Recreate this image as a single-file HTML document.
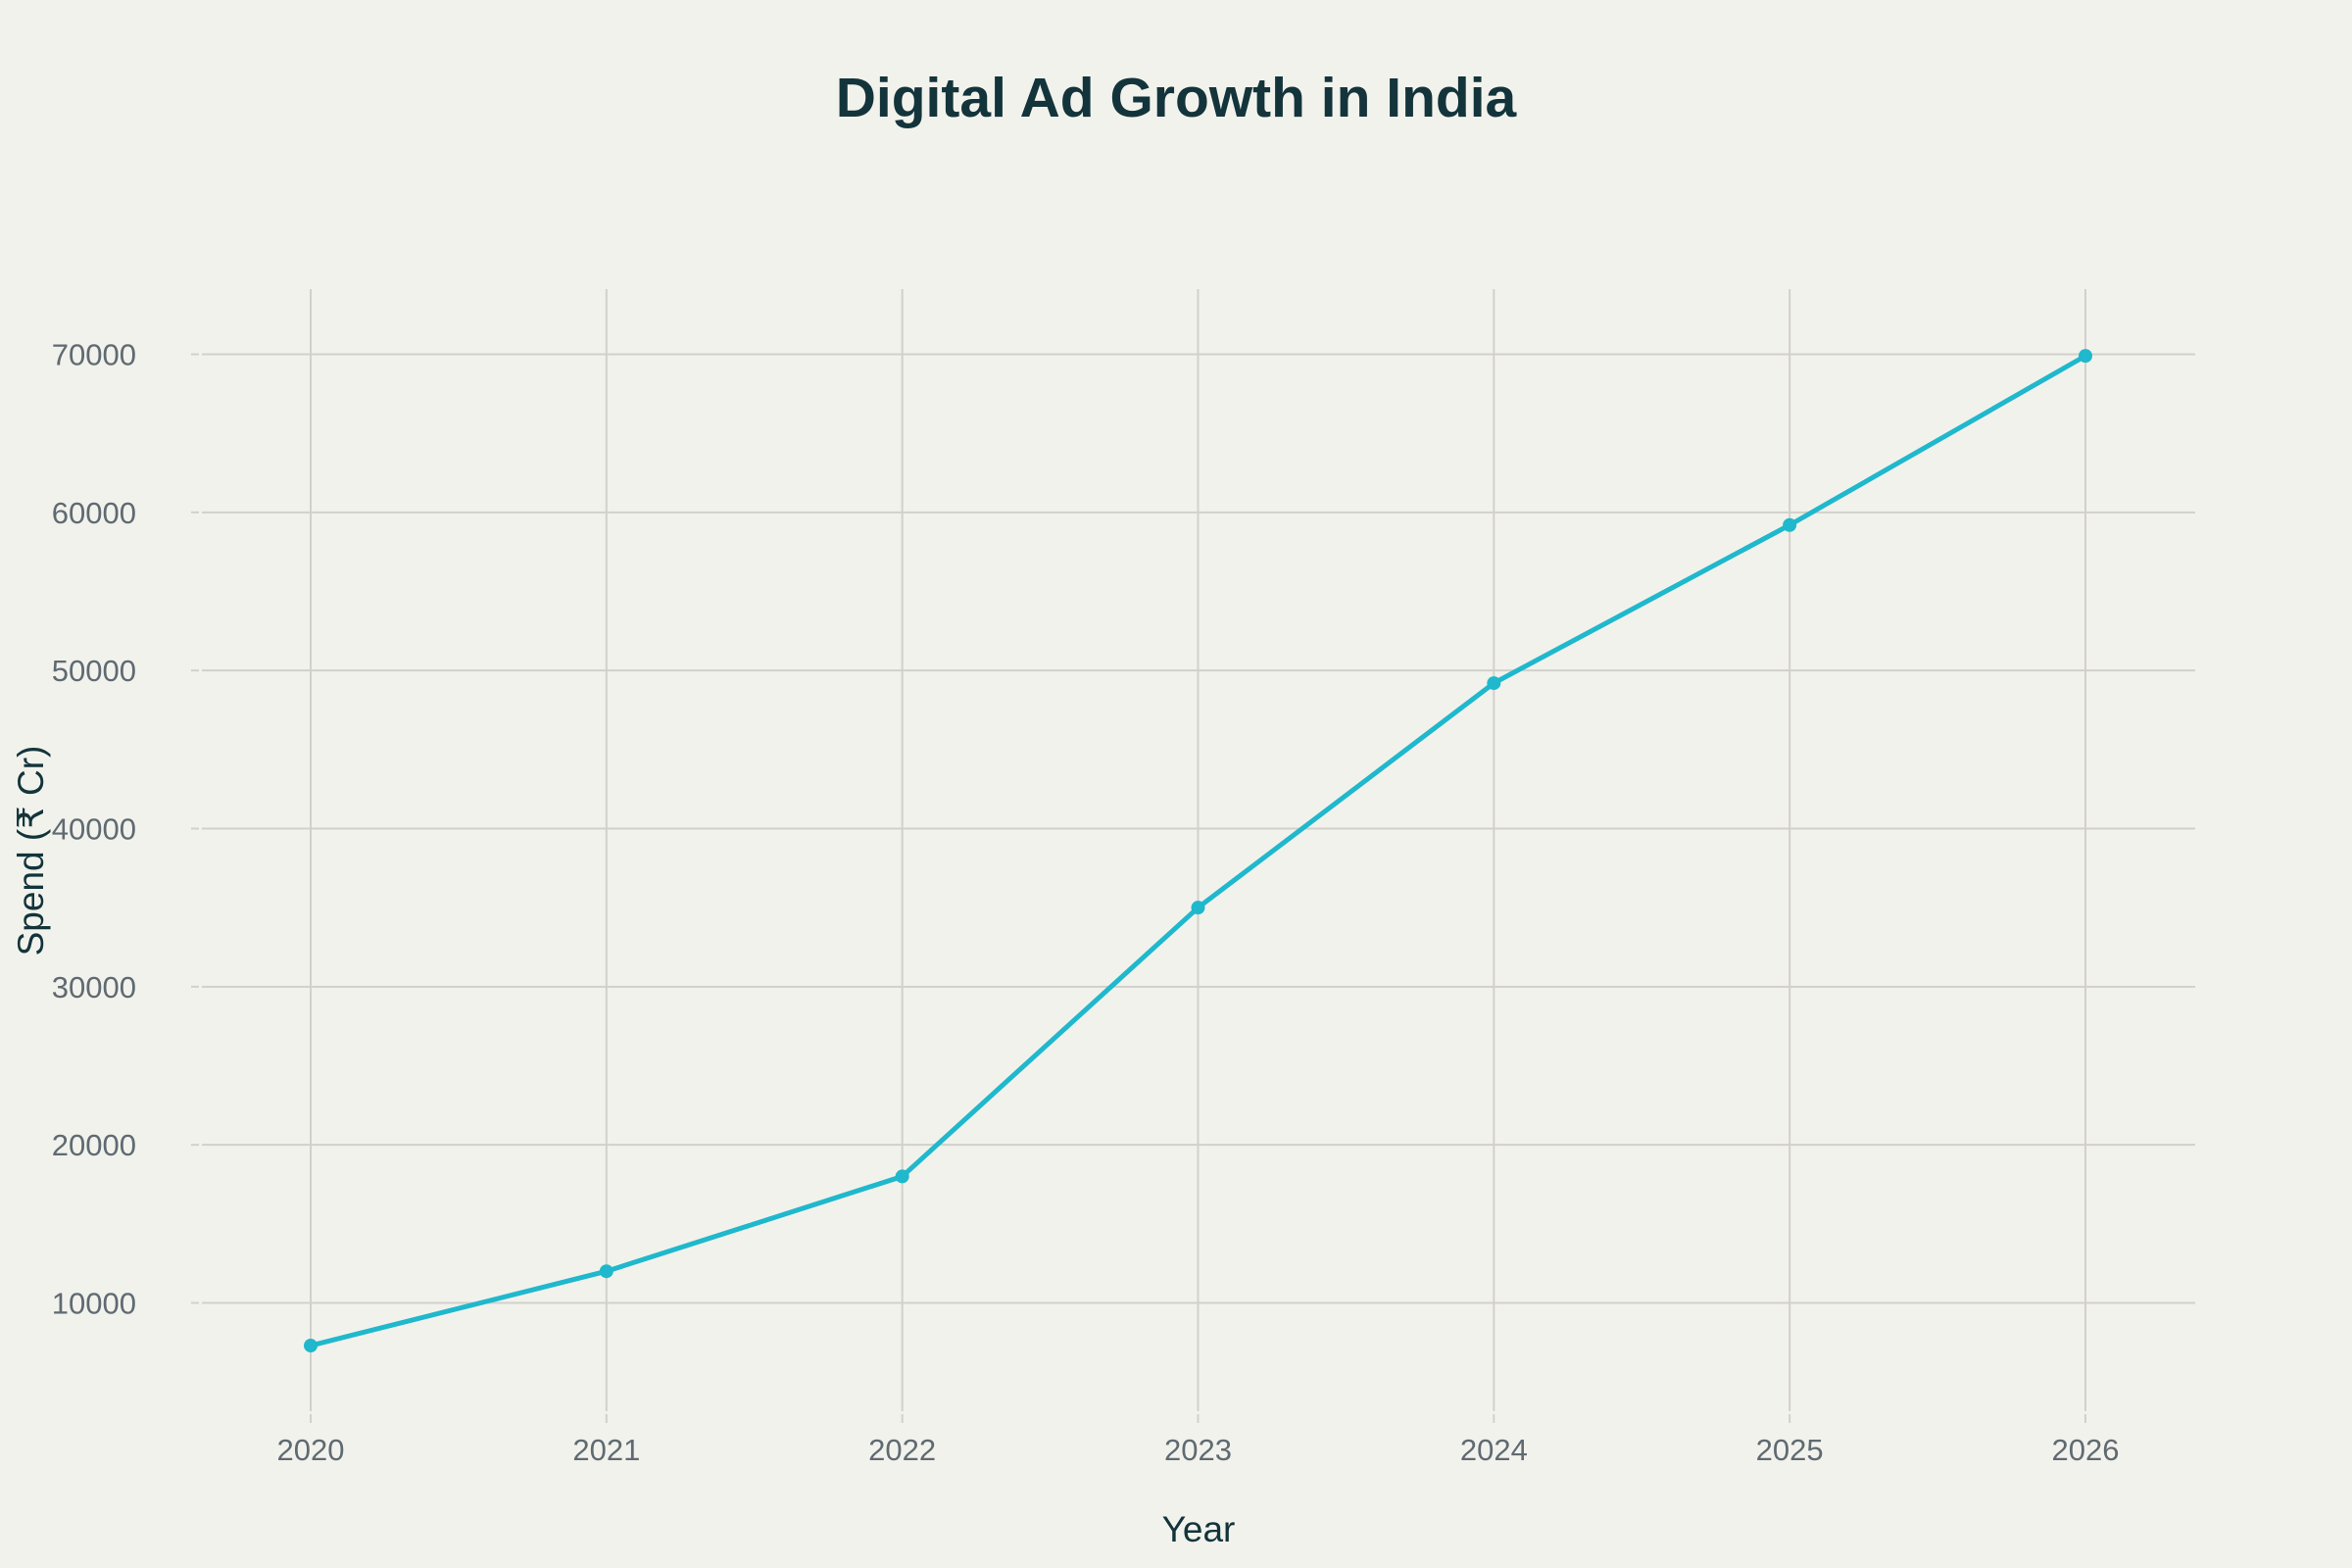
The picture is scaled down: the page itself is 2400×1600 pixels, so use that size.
<!DOCTYPE html>
<html><head><meta charset="utf-8"><style>
html,body{margin:0;padding:0;background:#f2f2ec;}
svg{display:block;font-family:"Liberation Sans",sans-serif;}
</style></head><body>
<svg id="chart" width="2400" height="1600" viewBox="0 0 2400 1600" xmlns="http://www.w3.org/2000/svg">
<rect width="2400" height="1600" fill="#f2f2ec"/>
<text x="1200" y="119" text-anchor="middle" font-size="57" font-weight="bold" fill="#13343b">Digital Ad Growth in India</text>
<g id="grid"></g>
<g id="ticks"></g>
<g id="series"></g>
<text x="1223" y="1573" text-anchor="middle" font-size="37" fill="#13343b">Year</text>
<text transform="translate(44,868) rotate(-90)" text-anchor="middle" font-size="37" fill="#13343b">Spend (₹ Cr)</text>
</svg>
<script>
const years = [2020, 2021, 2022, 2023, 2024, 2025, 2026];
const spend = [7300, 12000, 18000, 35000, 49200, 59200, 69900];
const yTicks = [10000, 20000, 30000, 40000, 50000, 60000, 70000];

const NS = "http://www.w3.org/2000/svg";
const plotL = 206, plotR = 2240, plotT = 295, plotB = 1440;
function xScale(v){ return 317 + (v - 2020) * (2128 - 317) / 6; }
function yScale(v){ return 1329.5 - (v - 10000) * (1329.5 - 361.5) / 60000; }
function mk(tag, attrs){ const e = document.createElementNS(NS, tag); for (const k in attrs) e.setAttribute(k, attrs[k]); return e; }

const grid = document.getElementById('grid');
const ticks = document.getElementById('ticks');
yTicks.forEach(t => {
  const y = yScale(t);
  const l = mk('line', {x1: plotL, x2: plotR, y1: y, y2: y, stroke: '#d2d0cb', 'stroke-width': 2});
  
  
  grid.appendChild(l);
  const tk = mk('line', {x1: 195, x2: 203, y1: y, y2: y, stroke: '#d2d0cb', 'stroke-width': 2});
  
  
  grid.appendChild(tk);
  const tx = mk('text', {x: 139, y: y + 11, 'text-anchor': 'end', 'font-size': 31, fill: '#5f6a72'});
  tx.textContent = t;
  
  
  ticks.appendChild(tx);
});
years.forEach(yr => {
  const x = xScale(yr);
  const l = mk('line', {x1: x, x2: x, y1: plotT, y2: plotB, stroke: '#d2d0cb', 'stroke-width': 2});
  
  
  grid.appendChild(l);
  const tk = mk('line', {x1: x, x2: x, y1: 1443, y2: 1452, stroke: '#d2d0cb', 'stroke-width': 2});
  
  
  grid.appendChild(tk);
  const tx = mk('text', {x: x, y: 1490, 'text-anchor': 'middle', 'font-size': 31, fill: '#5f6a72'});
  tx.textContent = yr;
  
  
  ticks.appendChild(tx);
});

const series = document.getElementById('series');
const pts = years.map((yr, i) => xScale(yr) + ',' + yScale(spend[i])).join(' ');
const pl = mk('polyline', {points: pts, fill: 'none', stroke: '#1fb8cd', 'stroke-width': 5, 'stroke-linejoin': 'round'});


series.appendChild(pl);
years.forEach((yr, i) => {
  const c = mk('circle', {cx: xScale(yr), cy: yScale(spend[i]), r: 7, fill: '#1fb8cd'});
  
  
  series.appendChild(c);
});
</script>
</body></html>
